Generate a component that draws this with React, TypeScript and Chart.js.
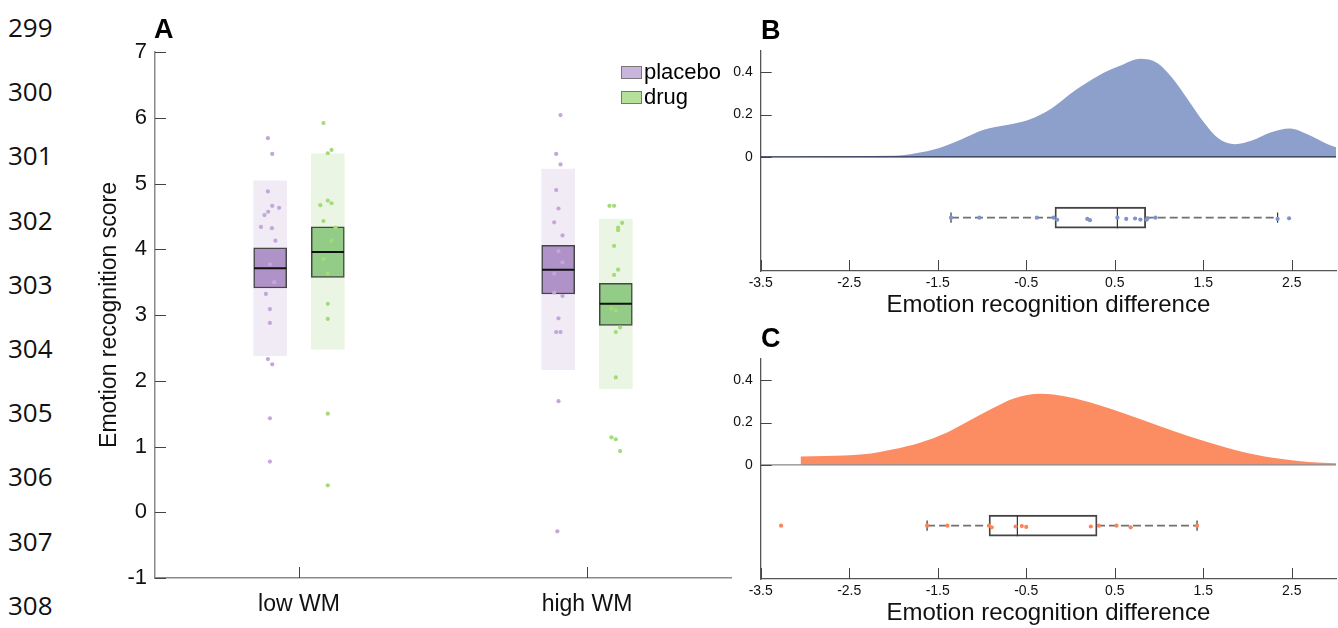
import React, { useEffect, useRef } from 'react';
import { Chart, registerables } from 'chart.js';

Chart.register(...registerables);

const FONT = "'Liberation Sans', Arial, Helvetica, sans-serif";

// ---------- margin line numbers ----------
const lineNumbers = ['299', '300', '301', '302', '303', '304', '305', '306', '307', '308'];

// ---------- Panel A data ----------
const groupLabels = ['low WM', 'high WM'];
const seriesNames = ['placebo', 'drug'];

const placeboLow = [5.69, 5.45, 4.88, 4.66, 4.63, 4.57, 4.52, 4.34, 4.32, 4.13, 3.77, 3.5, 3.32, 3.09, 2.88, 2.33, 2.25, 1.43, 0.77];
const placeboLowJitter = [-0.008, 0.007, -0.008, 0.007, 0.031, -0.007, -0.02, -0.032, 0.006, 0.018, -0.001, 0.014, -0.015, -0.001, -0.001, -0.008, 0.007, -0.001, -0.001];
const drugLow = [5.92, 5.51, 5.46, 4.74, 4.7, 4.67, 4.43, 4.33, 4.13, 3.85, 3.63, 3.17, 2.94, 1.5, 0.41];
const drugLowJitter = [-0.015, 0.013, 0, 0, 0.013, -0.026, -0.015, 0.027, 0.013, -0.015, 0, 0, 0, 0, 0];
const placeboHigh = [6.04, 5.45, 5.29, 4.9, 4.62, 4.41, 4.21, 3.97, 3.8, 3.63, 3.34, 3.29, 2.95, 2.74, 2.74, 1.69, -0.29];
const placeboHighJitter = [0.008, -0.007, 0.008, -0.007, 0.001, -0.014, 0.015, 0.001, 0.015, -0.014, -0.014, 0.015, 0.001, -0.007, 0.008, 0.001, -0.003];
const drugHigh = [4.66, 4.66, 4.4, 4.33, 4.29, 4.05, 3.69, 3.61, 3.1, 3.07, 2.81, 2.74, 2.05, 1.14, 1.11, 0.93];
const drugHighJitter = [-0.022, -0.006, 0.022, 0.008, 0.008, -0.006, 0.008, -0.006, -0.015, 0, 0.015, 0, 0, -0.015, 0, 0.015];

// [low WM, high WM]
const placeboBand = [[2.38, 5.04], [2.17, 5.22]];
const placeboBox = [[3.41, 4.02], [3.32, 4.06]];
const placeboMedian = [3.71, 3.69];
const drugBand = [[2.48, 5.45], [1.88, 4.46]];
const drugBox = [[3.57, 4.34], [2.84, 3.48]];
const drugMedian = [3.96, 3.17];

const yTicksA = [-1, 0, 1, 2, 3, 4, 5, 6, 7];

// ---------- Panel B data ----------
const densityBX = [-3.05, -2.5, -2.0, -1.75, -1.49, -1.23, -0.98, -0.72, -0.47, -0.21, 0.05, 0.3, 0.56, 0.79, 0.98, 1.15, 1.33, 1.5, 1.67, 1.86, 2.05, 2.26, 2.48, 2.69, 2.9, 3.0];
const densityBY = [0.002, 0.003, 0.005, 0.017, 0.041, 0.083, 0.128, 0.15, 0.175, 0.23, 0.313, 0.38, 0.43, 0.463, 0.443, 0.372, 0.269, 0.167, 0.088, 0.06, 0.077, 0.115, 0.134, 0.104, 0.061, 0.046];
const diffB = [-1.35, -1.03, -0.38, -0.19, -0.15, 0.19, 0.22, 0.53, 0.63, 0.73, 0.79, 0.86, 0.87, 0.96, 2.34, 2.47];
const diffBJitter = [0, 0, 0, 0, -0.01, -0.006, -0.012, 0, -0.006, -0.004, -0.009, -0.01, -0.003, 0, -0.006, -0.003];
const boxB = { q1: -0.175, median: 0.53, q3: 0.85, low: -1.35, high: 2.34 };

// ---------- Panel C data ----------
const densityCX = [-3.05, -2.77, -2.34, -2.0, -1.7, -1.4, -1.15, -0.89, -0.64, -0.34, -0.04, 0.3, 0.64, 0.98, 1.33, 1.67, 2.01, 2.35, 2.69, 3.0];
const densityCY = [0.039, 0.042, 0.05, 0.074, 0.105, 0.152, 0.207, 0.265, 0.314, 0.336, 0.322, 0.285, 0.238, 0.187, 0.136, 0.093, 0.055, 0.03, 0.014, 0.008];
const diffC = [-3.27, -1.62, -1.39, -0.92, -0.89, -0.62, -0.55, -0.5, 0.23, 0.32, 0.52, 0.68, 1.43];
const diffCJitter = [0, 0, 0, 0, -0.008, -0.004, -0.002, -0.006, -0.004, 0, 0, -0.008, 0];
const boxC = { q1: -0.92, median: -0.6, q3: 0.3, low: -1.62, high: 1.43 };

const xTicksDiff = [-3.5, -2.5, -1.5, -0.5, 0.5, 1.5, 2.5];
const yTicksDensity = [0, 0.2, 0.4];

// ---------- plugin: MATLAB-like inward tick marks ----------
const innerTicks = {
  id: 'innerTicks',
  afterDatasetsDraw(chart: any, _args: any, opts: any) {
    const { ctx, chartArea } = chart;
    const xs = chart.scales.x;
    const ys = chart.scales.y;
    const len = opts.length || 10;
    ctx.save();
    ctx.strokeStyle = opts.color || '#444';
    ctx.lineWidth = opts.width || 1;
    ctx.beginPath();
    for (const t of xs.ticks) {
      const px = Math.round(xs.getPixelForValue(t.value)) + 0.5;
      ctx.moveTo(px, chartArea.bottom);
      ctx.lineTo(px, chartArea.bottom - len);
    }
    for (const t of ys.ticks) {
      const py = Math.round(ys.getPixelForValue(t.value)) + 0.5;
      ctx.moveTo(chartArea.left, py);
      ctx.lineTo(chartArea.left + len, py);
    }
    ctx.stroke();
    ctx.restore();
  },
};

const groupX = [1, 2];
const seriesOffset = [-0.1, 0.1];
const halfBox = 0.056;

function buildPanelA(): any {
  const seriesPoints = [
    [{ v: placeboLow, j: placeboLowJitter }, { v: placeboHigh, j: placeboHighJitter }],
    [{ v: drugLow, j: drugLowJitter }, { v: drugHigh, j: drugHighJitter }],
  ];
  const bands = [placeboBand, drugBand];
  const boxes = [placeboBox, drugBox];
  const medians = [placeboMedian, drugMedian];
  const pointColor = ['#c4a6da', '#a5da7b'];
  const boxColor = ['#ae92c8', '#92cc86'];
  const bandColor = ['#f1ebf5', '#eaf6e3'];

  const datasets: any[] = [];
  seriesNames.forEach((name, s) => {
    const pts: any[] = [];
    groupX.forEach((gx, g) => {
      const { v, j } = seriesPoints[s][g];
      v.forEach((val, i) => pts.push({ x: gx + seriesOffset[s] + j[i], y: val }));
    });
    datasets.push({
      type: 'scatter', label: name + ' points', data: pts, order: 0,
      pointRadius: 2.1, pointBorderWidth: 0, backgroundColor: pointColor[s],
    });
    groupX.forEach((gx, g) => {
      const cx = gx + seriesOffset[s];
      datasets.push({
        type: 'line', label: name + ' median', order: 1,
        data: [{ x: cx - halfBox, y: medians[s][g] }, { x: cx + halfBox, y: medians[s][g] }],
        borderColor: '#111', borderWidth: 2, pointRadius: 0,
      });
    });
    datasets.push({
      type: 'bar', label: name, order: 2, grouped: false, barThickness: 33,
      data: groupX.map((gx, g) => ({ x: gx + seriesOffset[s], y: boxes[s][g] })),
      backgroundColor: boxColor[s], borderColor: 'rgba(40,40,40,0.85)', borderWidth: 1.5, borderSkipped: false,
    });
    datasets.push({
      type: 'bar', label: name + ' range', order: 3, grouped: false, barThickness: 33,
      data: groupX.map((gx, g) => ({ x: gx + seriesOffset[s], y: bands[s][g] })),
      backgroundColor: bandColor[s], borderWidth: 0,
    });
  });

  return {
    type: 'bar',
    data: { datasets },
    options: {
      animation: false, responsive: false, maintainAspectRatio: false,
      layout: { autoPadding: false, padding: { left: 90, top: 52, right: 14, bottom: 0 } },
      plugins: { legend: { display: false }, tooltip: { enabled: false }, innerTicks: { length: 11, color: '#444', width: 1 } },
      scales: {
        x: {
          type: 'linear', min: 0.5, max: 2.5, offset: false,
          grid: { display: false, drawTicks: false, offset: false },
          border: { display: true, color: '#8a8a8a', width: 1.5 },
          afterBuildTicks: (s: any) => { s.ticks = groupX.map((v) => ({ value: v })); },
          afterFit: (s: any) => { s.height = 50; },
          ticks: {
            padding: 13, color: '#111', font: { family: FONT, size: 23 },
            callback: (v: any) => groupLabels[Math.round(v) - 1] ?? '',
          },
        },
        y: {
          type: 'linear', min: -1, max: 7,
          grid: { display: false, drawTicks: false },
          border: { display: true, color: '#8a8a8a', width: 1.5 },
          afterBuildTicks: (s: any) => { s.ticks = yTicksA.map((v) => ({ value: v })); },
          afterFit: (s: any) => { s.width = 65; },
          ticks: { padding: 8, color: '#111', font: { family: FONT, size: 22 } },
          title: {
            display: true, text: 'Emotion recognition score', color: '#111',
            font: { family: FONT, size: 23 }, padding: { top: 6, bottom: 0 },
          },
        },
      },
    },
  };
}

function buildDiffPanel(
  dx: number[], dy: number[], pts: number[], jit: number[], box: any,
  fill: string, ptColor: string, baseColor: string,
): any {
  const yc = -0.287;
  const cap = 0.024;
  const boxHalf = 0.05;
  const datasets: any[] = [
    {
      type: 'scatter', label: 'subjects', order: 0,
      data: pts.map((v, i) => ({ x: v, y: yc + jit[i] })),
      pointRadius: 2.1, pointBorderWidth: 0, backgroundColor: ptColor,
    },
    {
      type: 'line', label: 'median', order: 1,
      data: [{ x: box.median, y: yc - boxHalf }, { x: box.median, y: yc + boxHalf }],
      borderColor: '#333', borderWidth: 1.2, pointRadius: 0,
    },
    {
      type: 'line', label: 'cap low', order: 1,
      data: [{ x: box.low, y: yc - cap }, { x: box.low, y: yc + cap }],
      borderColor: '#333', borderWidth: 1.2, pointRadius: 0,
    },
    {
      type: 'line', label: 'cap high', order: 1,
      data: [{ x: box.high, y: yc - cap }, { x: box.high, y: yc + cap }],
      borderColor: '#333', borderWidth: 1.2, pointRadius: 0,
    },
    {
      type: 'line', label: 'whisker low', order: 2,
      data: [{ x: box.low, y: yc }, { x: box.q1, y: yc }],
      borderColor: '#707070', borderWidth: 1.8, borderDash: [8, 4], pointRadius: 0,
    },
    {
      type: 'line', label: 'whisker high', order: 2,
      data: [{ x: box.q3, y: yc }, { x: box.high, y: yc }],
      borderColor: '#707070', borderWidth: 1.8, borderDash: [8, 4], pointRadius: 0,
    },
    {
      type: 'bar', label: 'box', order: 2, indexAxis: 'y', grouped: false, barThickness: 21,
      data: [{ y: yc, x: [box.q1, box.q3] }],
      backgroundColor: 'rgba(255,255,255,0)', borderColor: '#444', borderWidth: 1.2, borderSkipped: false,
    },
    {
      type: 'line', label: 'zero', order: 3,
      data: [{ x: -3.5, y: 0 }, { x: 3.0, y: 0 }],
      borderColor: baseColor, borderWidth: 1.2, pointRadius: 0,
    },
    {
      type: 'line', label: 'density', order: 4,
      data: dx.map((x, i) => ({ x, y: dy[i] })),
      borderWidth: 0, borderColor: fill, backgroundColor: fill, fill: 'origin',
      pointRadius: 0, cubicInterpolationMode: 'monotone',
    },
  ];
  return {
    type: 'bar',
    data: { datasets },
    options: {
      animation: false, responsive: false, maintainAspectRatio: false,
      layout: { autoPadding: false, padding: { left: 10.7, top: 21, right: 2, bottom: 0 } },
      plugins: { legend: { display: false }, tooltip: { enabled: false }, innerTicks: { length: 11, color: '#444', width: 1 } },
      scales: {
        x: {
          type: 'linear', min: -3.5, max: 3.0, offset: false,
          grid: { display: false, drawTicks: false, offset: false },
          border: { display: true, color: '#555', width: 1.3 },
          afterBuildTicks: (s: any) => { s.ticks = xTicksDiff.map((v) => ({ value: v })); },
          afterFit: (s: any) => { s.height = 54; },
          ticks: { padding: 4, color: '#111', font: { family: FONT, size: 14 }, callback: (v: any) => Number(v).toFixed(1) },
          title: {
            display: true, text: 'Emotion recognition difference', color: '#111',
            font: { family: FONT, size: 24 }, padding: { top: 0, bottom: 5 },
          },
        },
        y: {
          type: 'linear', min: -0.539, max: 0.5, offset: false,
          grid: { display: false, drawTicks: false, offset: false },
          border: { display: true, color: '#555', width: 1.3 },
          afterBuildTicks: (s: any) => { s.ticks = yTicksDensity.map((v) => ({ value: v })); },
          afterFit: (s: any) => { s.width = 60; },
          ticks: { padding: 8, color: '#111', font: { family: FONT, size: 14 }, callback: (v: any) => (v === 0 ? '0' : Number(v).toFixed(1)) },
        },
      },
    },
  };
}

export default function App() {
  const refA = useRef<HTMLCanvasElement | null>(null);
  const refB = useRef<HTMLCanvasElement | null>(null);
  const refC = useRef<HTMLCanvasElement | null>(null);

  useEffect(() => {
    const charts: Chart[] = [];
    if (refA.current) {
      const cfg = buildPanelA();
      cfg.plugins = [innerTicks];
      charts.push(new Chart(refA.current, cfg));
    }
    if (refB.current) {
      const cfg = buildDiffPanel(densityBX, densityBY, diffB, diffBJitter, boxB, '#8da0cb', '#7f94cb', '#1e2846');
      cfg.plugins = [innerTicks];
      charts.push(new Chart(refB.current, cfg));
    }
    if (refC.current) {
      const cfg = buildDiffPanel(densityCX, densityCY, diffC, diffCJitter, boxC, '#fc8d62', '#fb8458', '#888888');
      cfg.plugins = [innerTicks];
      charts.push(new Chart(refC.current, cfg));
    }
    return () => charts.forEach((c) => c.destroy());
  }, []);

  const letterStyle: React.CSSProperties = {
    position: 'absolute', fontFamily: FONT, fontWeight: 'bold', fontSize: 27, lineHeight: '30px', color: '#000',
  };
  const legendRow = (top: number, color: string, text: string) => (
    <div style={{ position: 'absolute', left: 621, top, height: 26, display: 'flex', alignItems: 'center' }}>
      <div style={{ width: 21, height: 13, background: color, border: '1px solid #777', boxSizing: 'border-box' }} />
      <span style={{ fontFamily: FONT, fontSize: 22, color: '#000', marginLeft: 2, lineHeight: '26px' }}>{text}</span>
    </div>
  );

  return (
    <div style={{ position: 'absolute', left: 0, top: 0, width: 1338, height: 628, overflow: 'hidden', background: '#fff' }}>
      {lineNumbers.map((n, i) => (
        <div key={n} style={{
          position: 'absolute', left: 8, top: 27 + i * 64.2 - 15, height: 30, lineHeight: '30px',
          fontFamily: "'Open Sans', 'Liberation Sans', sans-serif", fontSize: 26, color: '#111',
        }}>{n}</div>
      ))}
      <canvas ref={refA} width={745} height={628} style={{ position: 'absolute', left: 0, top: 0, width: 745, height: 628 }} />
      <canvas ref={refB} width={648} height={295} style={{ position: 'absolute', left: 690, top: 30, width: 648, height: 295 }} />
      <canvas ref={refC} width={648} height={295} style={{ position: 'absolute', left: 690, top: 338.3, width: 648, height: 295 }} />
      <div style={{ ...letterStyle, left: 154, top: 14 }}>A</div>
      <div style={{ ...letterStyle, left: 761, top: 15 }}>B</div>
      <div style={{ ...letterStyle, left: 761, top: 323 }}>C</div>
      {legendRow(59, '#c9b4de', seriesNames[0])}
      {legendRow(84, '#b4e09a', seriesNames[1])}
    </div>
  );
}
